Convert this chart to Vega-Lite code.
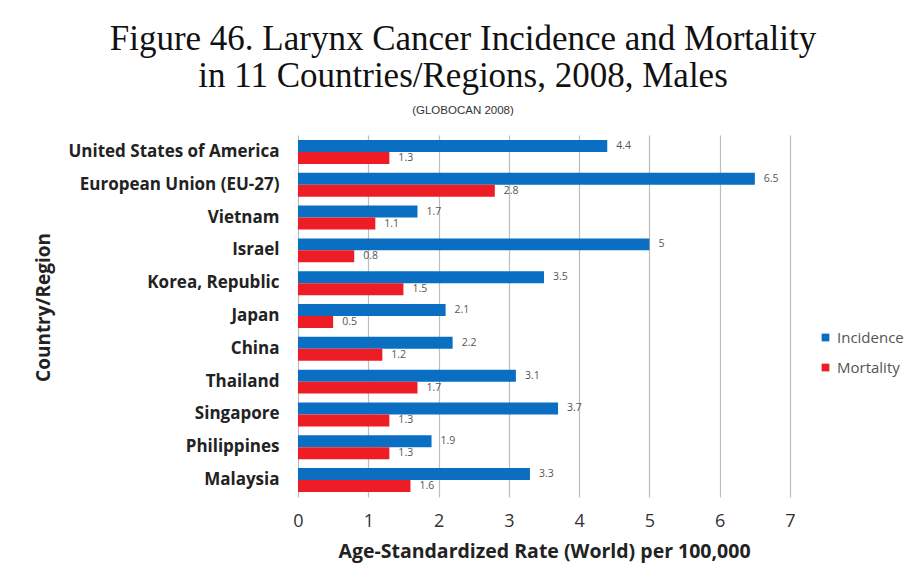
{
  "$schema": "https://vega.github.io/schema/vega-lite/v6.json",
  "autosize": {"type": "none"},
  "width": 492,
  "height": 362,
  "padding": {"left": 298, "top": 135, "right": 121, "bottom": 80},
  "background": "white",
  "config": {"view": {"stroke": null}},
  "title": {
    "text": ["Figure 46. Larynx Cancer Incidence and Mortality", "in 11 Countries/Regions, 2008, Males"],
    "subtitle": "(GLOBOCAN 2008)",
    "font": "Liberation Serif",
    "fontSize": 35,
    "fontWeight": "normal",
    "color": "#111111",
    "lineHeight": 37,
    "anchor": "middle",
    "dx": -81,
    "offset": 19,
    "subtitleFont": "Liberation Sans",
    "subtitleFontSize": 11.5,
    "subtitleColor": "#333333",
    "subtitlePadding": 11
  },
  "data": {
    "values": [
      {"country": "United States of America", "measure": "Incidence", "rate": 4.4},
      {"country": "United States of America", "measure": "Mortality", "rate": 1.3},
      {"country": "European Union (EU-27)", "measure": "Incidence", "rate": 6.5},
      {"country": "European Union (EU-27)", "measure": "Mortality", "rate": 2.8},
      {"country": "Vietnam", "measure": "Incidence", "rate": 1.7},
      {"country": "Vietnam", "measure": "Mortality", "rate": 1.1},
      {"country": "Israel", "measure": "Incidence", "rate": 5},
      {"country": "Israel", "measure": "Mortality", "rate": 0.8},
      {"country": "Korea, Republic", "measure": "Incidence", "rate": 3.5},
      {"country": "Korea, Republic", "measure": "Mortality", "rate": 1.5},
      {"country": "Japan", "measure": "Incidence", "rate": 2.1},
      {"country": "Japan", "measure": "Mortality", "rate": 0.5},
      {"country": "China", "measure": "Incidence", "rate": 2.2},
      {"country": "China", "measure": "Mortality", "rate": 1.2},
      {"country": "Thailand", "measure": "Incidence", "rate": 3.1},
      {"country": "Thailand", "measure": "Mortality", "rate": 1.7},
      {"country": "Singapore", "measure": "Incidence", "rate": 3.7},
      {"country": "Singapore", "measure": "Mortality", "rate": 1.3},
      {"country": "Philippines", "measure": "Incidence", "rate": 1.9},
      {"country": "Philippines", "measure": "Mortality", "rate": 1.3},
      {"country": "Malaysia", "measure": "Incidence", "rate": 3.3},
      {"country": "Malaysia", "measure": "Mortality", "rate": 1.6}
    ]
  },
  "encoding": {
    "y": {
      "field": "country",
      "type": "nominal",
      "sort": null,
      "scale": {"paddingInner": 0.27, "paddingOuter": 0.15},
      "axis": {
        "title": "Country/Region",
        "titleFont": "Open Sans",
        "titleFontSize": 19,
        "titleFontWeight": "bold",
        "titleColor": "#222222",
        "titleAngle": -90,
        "titleX": -255,
        "titleY": 172,
        "titleAlign": "center",
        "titleBaseline": "middle",
        "labelFont": "Open Sans",
        "labelFontSize": 17,
        "labelFontWeight": "bold",
        "labelColor": "#222222",
        "labelPadding": 19,
        "labelLimit": 300,
        "ticks": false,
        "domain": false,
        "grid": false
      }
    },
    "yOffset": {"field": "measure", "type": "nominal", "scale": {"paddingInner": 0, "paddingOuter": 0}},
    "x": {
      "field": "rate",
      "type": "quantitative",
      "scale": {"domain": [0, 7], "nice": false},
      "axis": {
        "title": "Age-Standardized Rate (World) per 100,000",
        "titleFont": "Open Sans",
        "titleFontSize": 19.5,
        "titleFontWeight": "bold",
        "titleColor": "#222222",
        "titlePadding": 12,
        "labelFont": "Open Sans",
        "labelFontSize": 18,
        "labelColor": "#333333",
        "labelPadding": 15,
        "labelOverlap": false,
        "labelFlush": false,
        "values": [0, 1, 2, 3, 4, 5, 6, 7],
        "ticks": false,
        "domain": false,
        "grid": true,
        "gridColor": "#bdbdbd",
        "gridWidth": 1.2
      }
    }
  },
  "layer": [
    {
      "mark": {"type": "bar"},
      "encoding": {
        "color": {
          "field": "measure",
          "type": "nominal",
          "scale": {"domain": ["Incidence", "Mortality"], "range": ["#0a6fc2", "#ee1c25"]},
          "legend": {
            "title": null,
            "orient": "none",
            "legendX": 520,
            "legendY": 195,
            "symbolType": "square",
            "symbolSize": 60,
            "symbolStrokeWidth": 0,
            "labelFont": "Open Sans",
            "labelFontSize": 15,
            "labelColor": "#555555",
            "rowPadding": 14,
            "labelOffset": 4
          }
        }
      }
    },
    {
      "mark": {"type": "text", "align": "left", "baseline": "middle", "dx": 9, "fontSize": 10.5, "font": "Open Sans", "color": "#555555"},
      "encoding": {
        "text": {"field": "rate", "type": "quantitative"}
      }
    }
  ]
}
